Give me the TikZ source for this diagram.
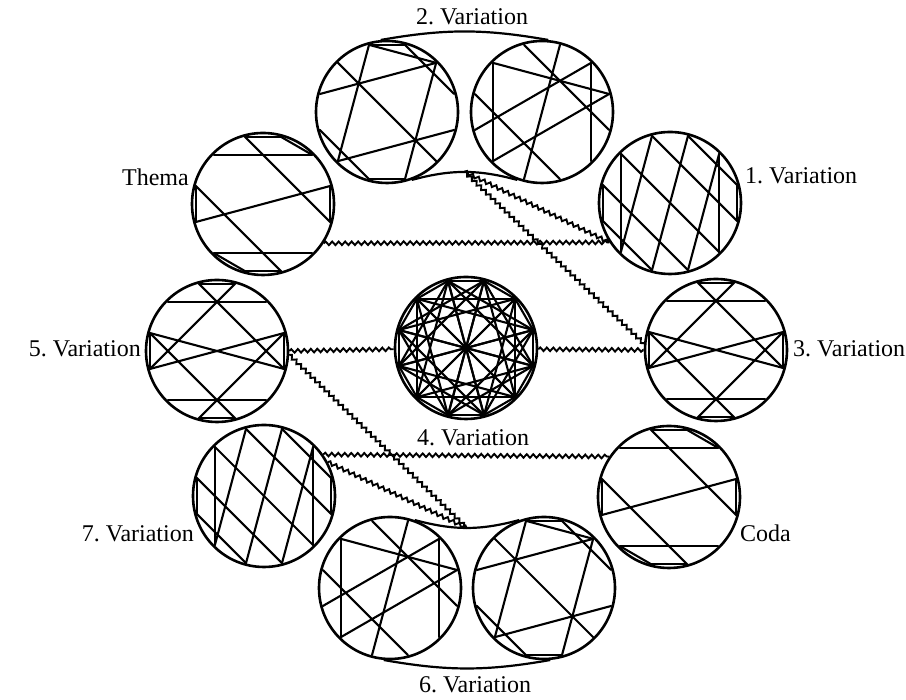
\documentclass[tikz,border=0pt]{standalone}
\usepackage{fontspec}
\setmainfont{Liberation Serif}
\usetikzlibrary{decorations.pathmorphing}
\newcommand\rowdiag[4]{%
  \node[rc] (#1) at (#2,#3) {};
  \foreach \p/\q in {#4} {\draw[chord, shift={(#2,#3)}] (\p:69.5) -- (\q:69.5);}
}
\begin{document}
\frenchspacing
\begin{tikzpicture}[x=1pt,y=1pt,
  rc/.style={circle, draw, line width=2.6pt, minimum size=142pt, inner sep=0pt},
  chord/.style={line width=2.1pt, line cap=round, line join=round},
  wavy/.style={line width=1.9pt, decorate, decoration={snake, amplitude=1.8pt, segment length=6.5pt}},
  lab/.style={font=\fontsize{24}{28}\selectfont, inner sep=0pt},
  hull/.style={line width=2.2pt}]
\useasboundingbox (0,0) rectangle (906,700);

% Thema and Coda
\rowdiag{T}{263}{496}{135/45,45/75,75/105,105/345,345/15,15/195,195/165,165/285,285/255,255/225,225/315}
\rowdiag{Coda}{669}{203}{135/45,45/75,75/105,105/345,345/15,15/195,195/165,165/285,285/255,255/225,225/315}
% 3. and 5. Variation
\rowdiag{V3}{716}{350}{45/135,75/105,75/195,105/345,165/195,165/345,195/15,345/15,165/285,15/255,225/315,255/285}
\rowdiag{V5}{217}{349}{45/135,75/105,75/195,105/345,165/195,165/345,195/15,345/15,165/285,15/255,225/315,255/285}
% 1. and 7. Variation
\rowdiag{V1}{670}{497}{135/225,45/315,105/225,75/255,45/285,75/15,105/345,135/315,165/285,195/255,165/195,15/345}
\rowdiag{V7}{264}{204}{135/225,45/315,105/225,75/255,45/285,75/15,105/345,135/315,165/285,195/255,165/195,15/345}
% 2. Variation
\rowdiag{V2a}{387}{588}{105/225,165/45,45/285,225/345,135/315,105/45,75/15,195/255,75/105,255/285}
\rowdiag{V2b}{542}{588}{135/225,45/315,75/255,105/345,135/15,195/45,165/285,225/15}
% 6. Variation
\rowdiag{V6a}{390}{112}{135/225,45/315,75/255,105/345,135/15,195/45,165/285,225/15}
\rowdiag{V6b}{544}{112}{105/225,165/45,45/285,225/345,135/315,105/45,75/15,195/255,75/105,255/285}
% 4. Variation
\node[rc] (V4) at (466,352) {};
\foreach \k in {15,45,...,345} {
  \draw[chord, shift={(466,352)}] (\k:69.5) -- (\k+120:69.5);
  \draw[chord, shift={(466,352)}] (\k:69.5) -- (\k+90:69.5);
  \draw[chord, shift={(466,352)}] (\k:69.5) -- (\k+30:69.5);
  \draw[chord, shift={(466,352)}] (\k:69.5) -- (\k+180:69.5);
}

% hulls of the pairs
\draw[hull] (V2a.95) to[out=10,in=170] (V2b.85);
\draw[hull] (V2a.-70) to[out=15,in=165] (V2b.-110);
\draw[hull] (V6a.70) to[out=-15,in=-165] (V6b.110);
\draw[hull] (V6a.-95) to[out=-10,in=-170] (V6b.-85);
\coordinate (h2) at (464.5,528.3);
\coordinate (h6) at (467,171.8);

% wavy connectors
\draw[wavy] (T.-33) -- (V1.213);
\draw[wavy] (h2) -- (V1.213);
\draw[wavy] (h2) -- (V3.175);
\draw[wavy] (V5.0) -- (V4.181);
\draw[wavy] (V4.-1) -- (V3.180);
\draw[wavy] (V5.-3) -- (h6);
\draw[wavy] (V7.35) -- (Coda.146);
\draw[wavy] (V7.28) -- (h6);

% labels
\node[lab] (l2) at (472,683) {2. Variation};
\node[lab, anchor=east] (lT) at (189,523) {Thema};
\node[lab, anchor=west] (l1) at (745,524) {1. Variation};
\node[lab, anchor=east] (l5) at (141,351) {5. Variation};
\node[lab, anchor=west] (l3) at (793,351) {3. Variation};
\node[lab] (l4) at (473,262) {4. Variation};
\node[lab, anchor=east] (l7) at (194,166) {7. Variation};
\node[lab, anchor=west] (lC) at (740,167) {Coda};
\node[lab] (l6) at (475,15) {6. Variation};
\end{tikzpicture}
\end{document}
